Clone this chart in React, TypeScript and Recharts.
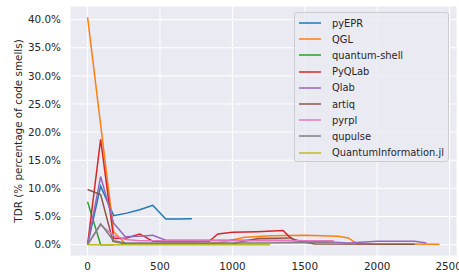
import { LineChart, Line, XAxis, YAxis, CartesianGrid } from "recharts";

const FONT = "'DejaVu Sans', sans-serif";

const X_TICKS = [0, 500, 1000, 1500, 2000, 2500];
const Y_TICKS = [0, 5, 10, 15, 20, 25, 30, 35, 40];

// [release x, TDR %]
const PYEPR = [[0, 0], [90, 10.4], [180, 5.15], [270, 5.6], [360, 6.2], [450, 7.0], [540, 4.55], [630, 4.55], [720, 4.6]];
const QGL = [[0, 40.4], [180, 2.3], [260, 0.2], [360, 0.1], [540, 0.1], [720, 0.1], [900, 0.3], [990, 0.8], [1085, 1.3], [1270, 1.6], [1500, 1.65], [1730, 1.5], [1800, 1.2], [1860, 0.2], [2000, 0.1], [2200, 0.1], [2430, 0.05]];
const QUANTUM_SHELL = [[0, 7.6], [90, 0], [180, 0]];
const PYQLAB = [[0, 0], [90, 18.7], [180, 1.1], [270, 1.2], [360, 1.9], [450, 0.6], [540, 0.5], [720, 0.5], [840, 0.6], [900, 1.9], [1000, 2.2], [1170, 2.3], [1350, 2.5], [1385, 1.6], [1431, 0.7], [1640, 0.6]];
const QLAB = [[0, 0], [90, 12.1], [180, 3.8], [260, 1.4], [360, 1.5], [450, 1.65], [540, 0.8], [720, 0.8], [900, 0.8], [1100, 0.8], [1300, 0.8], [1500, 0.7], [1800, 0.3], [2000, 0.6], [2260, 0.6], [2340, 0.3]];
const ARTIQ = [[0, 9.8], [90, 8.9], [175, 0.6], [270, 0.1], [540, 0.1], [1000, 0.1], [1062, 0.5], [1177, 1.1], [1396, 1.2], [1477, 0.5], [1570, 0.1], [2260, 0.05]];
const PYRPL = [[0, 0], [90, 3.5], [180, 1.6], [260, 0.9], [360, 0.7], [720, 0.7], [1100, 0.7], [1700, 0.7]];
const QUPULSE = [[0, 0], [90, 3.7], [180, 0.7], [260, 0.3], [720, 0.3], [1200, 0.3], [1700, 0.4]];
const QUANTUM_INFO = [[0, 0], [90, 0], [180, 0], [360, 0], [720, 0], [1260, 0]];

const SERIES = [
  { name: "pyEPR", color: "#1f77b4", points: PYEPR },
  { name: "QGL", color: "#ff7f0e", points: QGL },
  { name: "quantum-shell", color: "#2ca02c", points: QUANTUM_SHELL },
  { name: "PyQLab", color: "#d62728", points: PYQLAB },
  { name: "Qlab", color: "#9467bd", points: QLAB },
  { name: "artiq", color: "#8c564b", points: ARTIQ },
  { name: "pyrpl", color: "#e377c2", points: PYRPL },
  { name: "qupulse", color: "#7f7f7f", points: QUPULSE },
  { name: "QuantumInformation.jl", color: "#bcbd22", points: QUANTUM_INFO },
];

function LegendBox() {
  return (
    <div
      style={{
        position: "absolute",
        left: 294,
        top: 12,
        width: 155,
        height: 150,
        boxSizing: "border-box",
        border: "1px solid #cccccc",
        borderRadius: 3,
        background: "rgba(234,234,242,0.8)",
        paddingTop: 2,
        fontFamily: FONT,
        fontSize: 9.9,
        color: "#262626",
      }}
    >
      {SERIES.map((s) => (
        <div key={s.name} style={{ display: "flex", alignItems: "center", height: 16.2 }}>
          <svg width={22} height={4} style={{ marginLeft: 4, marginRight: 11 }}>
            <line x1={0} y1={2} x2={22} y2={2} stroke={s.color} strokeWidth={1.5} />
          </svg>
          <span style={{ whiteSpace: "nowrap" }}>{s.name}</span>
        </div>
      ))}
    </div>
  );
}

export default function App() {
  return (
    <div style={{ position: "fixed", left: 0, top: 0, width: 459, height: 279, background: "#fff" }}>
      <LineChart width={459} height={279} margin={{ top: 6, right: 2, bottom: 0, left: 0 }}>
        <CartesianGrid fill="#eaeaf2" stroke="#ffffff" strokeWidth={1} />
        <XAxis
          dataKey="x"
          type="number"
          domain={[-121.5, 2551]}
          ticks={X_TICKS}
          allowDataOverflow
          axisLine={false}
          tickLine={false}
          tickSize={0}
          tickMargin={7}
          height={23}
          tick={{ fill: "#262626", fontSize: 10.4, fontFamily: FONT }}
        />
        <YAxis
          type="number"
          domain={[-2.02, 42.42]}
          ticks={Y_TICKS}
          allowDataOverflow
          width={70}
          axisLine={false}
          tickLine={false}
          tickSize={0}
          tickMargin={9}
          tickFormatter={(v) => `${Number(v).toFixed(1)}%`}
          tick={{ fill: "#262626", fontSize: 10.4, fontFamily: FONT }}
          label={{
            content: ({ viewBox }: any) => {
              const cy = viewBox.y + viewBox.height / 2;
              return (
                <text
                  x={18}
                  y={cy}
                  transform={`rotate(-90, 18, ${cy})`}
                  textAnchor="middle"
                  dominantBaseline="central"
                  fill="#262626"
                  fontSize={10.4}
                  fontFamily={FONT}
                >
                  TDR (% percentage of code smells)
                </text>
              );
            },
          }}
        />
        {SERIES.map((s) => (
          <Line
            key={s.name}
            name={s.name}
            data={s.points.map(([x, y]) => ({ x, y }))}
            dataKey="y"
            stroke={s.color}
            strokeWidth={1.5}
            dot={false}
            activeDot={false}
            type="linear"
            isAnimationActive={false}
          />
        ))}
      </LineChart>
      <LegendBox />
    </div>
  );
}
